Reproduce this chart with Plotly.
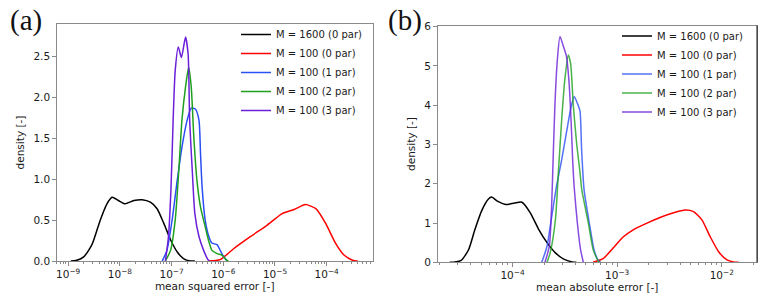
import plotly.graph_objects as go

# ---------------- data (x as log10 exponent, y as density) ----------------
SERIES_NAMES = ["M = 1600 (0 par)", "M = 100 (0 par)", "M = 100 (1 par)",
                "M = 100 (2 par)", "M = 100 (3 par)"]

# Panel (a): mean squared error
A_BLACK_LOGX = [-8.95, -8.85, -8.70, -8.54, -8.38, -8.25, -8.15, -8.03, -7.90, -7.73,
                -7.57, -7.41, -7.28, -7.15, -7.02, -6.89, -6.77, -6.64, -6.55]
A_BLACK_Y = [0.0, 0.005, 0.05, 0.20, 0.50, 0.70, 0.78, 0.74, 0.70, 0.74,
             0.75, 0.72, 0.64, 0.46, 0.26, 0.11, 0.03, 0.0, 0.0]

A_RED_LOGX = [-6.30, -6.15, -6.05, -5.80, -5.47, -5.15, -4.86, -4.63, -4.41, -4.21,
              -4.02, -3.83, -3.66, -3.50, -3.40]
A_RED_Y = [0.0, 0.005, 0.02, 0.15, 0.30, 0.44, 0.58, 0.63, 0.69, 0.64,
           0.46, 0.22, 0.07, 0.01, 0.0]

A_BLUE_LOGX = [-7.18, -7.09, -6.99, -6.89, -6.80, -6.70, -6.62, -6.54, -6.47, -6.44,
               -6.41, -6.35, -6.28, -6.22, -6.12, -6.06, -5.99, -5.92]
A_BLUE_Y = [0.0, 0.13, 0.50, 0.99, 1.39, 1.72, 1.87, 1.86, 1.72, 1.31,
            0.91, 0.50, 0.30, 0.22, 0.20, 0.13, 0.05, 0.0]

A_GREEN_LOGX = [-7.12, -7.02, -6.93, -6.86, -6.80, -6.73, -6.67, -6.62, -6.57, -6.51,
                -6.44, -6.35, -6.28, -6.22, -6.12, -6.02, -5.94, -5.90]
A_GREEN_Y = [0.0, 0.13, 0.50, 1.11, 1.72, 2.13, 2.37, 2.13, 1.52, 0.99,
             0.66, 0.42, 0.24, 0.13, 0.09, 0.07, 0.01, 0.0]

A_PURPLE_LOGX = [-7.12, -7.06, -7.01, -6.97, -6.93, -6.87, -6.81, -6.73, -6.68, -6.65,
                 -6.60, -6.55, -6.47, -6.38, -6.30, -6.27]
A_PURPLE_Y = [0.0, 0.30, 0.91, 1.72, 2.33, 2.62, 2.49, 2.74, 2.53, 1.72,
              1.11, 0.58, 0.30, 0.13, 0.02, 0.0]

# Panel (b): mean absolute error
B_BLACK_LOGX = [-4.60, -4.55, -4.49, -4.42, -4.36, -4.29, -4.23, -4.20, -4.14, -4.06,
                -3.98, -3.91, -3.83, -3.75, -3.67, -3.59, -3.51, -3.43, -3.39]
B_BLACK_Y = [0.0, 0.005, 0.05, 0.32, 0.83, 1.34, 1.61, 1.66, 1.55, 1.47,
             1.51, 1.53, 1.26, 0.84, 0.50, 0.24, 0.08, 0.01, 0.0]

B_RED_LOGX = [-3.23, -3.13, -3.04, -2.94, -2.85, -2.72, -2.59, -2.46, -2.35, -2.27,
              -2.19, -2.11, -2.03, -1.95, -1.89, -1.84]
B_RED_Y = [0.0, 0.10, 0.36, 0.65, 0.82, 0.99, 1.14, 1.26, 1.33, 1.29,
           1.08, 0.65, 0.27, 0.06, 0.01, 0.0]

B_BLUE_LOGX = [-3.72, -3.67, -3.63, -3.58, -3.53, -3.48, -3.44, -3.41, -3.38, -3.355,
               -3.34, -3.316, -3.266, -3.22, -3.18, -3.157]
B_BLUE_Y = [0.0, 0.41, 1.08, 1.93, 2.61, 3.37, 3.96, 4.22, 4.05, 3.85,
            2.90, 1.85, 1.00, 0.31, 0.05, 0.0]

B_GREEN_LOGX = [-3.67, -3.64, -3.59, -3.56, -3.53, -3.50, -3.467, -3.444, -3.419, -3.386,
                -3.355, -3.338, -3.275, -3.228, -3.18, -3.163]
B_GREEN_Y = [0.0, 0.24, 1.08, 2.36, 3.63, 4.65, 5.28, 5.05, 4.00, 3.00,
             2.30, 1.85, 1.00, 0.31, 0.03, 0.0]

B_PURPLE_LOGX = [-3.69, -3.648, -3.625, -3.61, -3.594, -3.572, -3.546, -3.514, -3.485, -3.46,
                 -3.44, -3.425, -3.41, -3.38, -3.35, -3.323]
B_PURPLE_Y = [0.0, 0.41, 1.51, 2.78, 4.04, 5.14, 5.75, 5.50, 5.25, 4.60,
              3.60, 2.60, 1.90, 1.00, 0.33, 0.0]

COLORS = ["#000000", "#ff0000", "#2a4ff5", "#1ea01e", "#6a1fd8"]

A_YTICKS = [0.0, 0.5, 1.0, 1.5, 2.0, 2.5]
B_YTICKS = [0, 1, 2, 3, 4, 5, 6]
A_XEXP = [-9, -8, -7, -6, -5, -4]
B_XEXP = [-4, -3, -2]

# ---------------- figure ----------------
W, H = 763, 303
fig = go.Figure()

panel_a = [(A_BLACK_LOGX, A_BLACK_Y), (A_RED_LOGX, A_RED_Y), (A_BLUE_LOGX, A_BLUE_Y),
           (A_GREEN_LOGX, A_GREEN_Y), (A_PURPLE_LOGX, A_PURPLE_Y)]
panel_b = [(B_BLACK_LOGX, B_BLACK_Y), (B_RED_LOGX, B_RED_Y), (B_BLUE_LOGX, B_BLUE_Y),
           (B_GREEN_LOGX, B_GREEN_Y), (B_PURPLE_LOGX, B_PURPLE_Y)]

for i, (lx, y) in enumerate(panel_a):
    fig.add_trace(go.Scatter(
        x=[10 ** v for v in lx], y=y, mode="lines", name=SERIES_NAMES[i],
        line=dict(color=COLORS[i], width=1.5, shape="spline", smoothing=0.6),
        xaxis="x", yaxis="y", legend="legend"))

for i, (lx, y) in enumerate(panel_b):
    fig.add_trace(go.Scatter(
        x=[10 ** v for v in lx], y=y, mode="lines", name=SERIES_NAMES[i],
        opacity=1.0 if i < 2 else 0.8,
        line=dict(color=COLORS[i], width=1.5, shape="spline", smoothing=0.6),
        xaxis="x2", yaxis="y2", legend="legend2"))

def px_x(p):
    return p / W

def px_y(p):
    return 1 - p / H

SPINE = "#8a8a8a"
TICKFONT = dict(family="DejaVu Sans", size=10.5, color="#1a1a1a")
TITLEFONT = dict(family="DejaVu Sans", size=10.5, color="#1a1a1a")

def minor_vals(exps):
    lo, hi = exps[0] - 1, exps[-1] + 1
    return [k * 10.0 ** e for e in range(lo, hi + 1) for k in range(2, 10)]

common_x = dict(type="log", showgrid=False, zeroline=False, showline=True, mirror=True,
                linecolor=SPINE, linewidth=1, ticks="outside", ticklen=3.5, tickwidth=1,
                tickcolor=SPINE, tickfont=TICKFONT, title_font=TITLEFONT, automargin=False)
common_y = dict(showgrid=False, zeroline=False, showline=True, mirror=True,
                linecolor=SPINE, linewidth=1, ticks="outside", ticklen=3.5, tickwidth=1,
                tickcolor=SPINE, tickfont=TICKFONT, title_font=TITLEFONT, automargin=False)

fig.update_layout(
    width=W, height=H, margin=dict(l=0, r=0, t=0, b=0, autoexpand=False),
    paper_bgcolor="white", plot_bgcolor="white",
    font=dict(family="DejaVu Sans", color="#1a1a1a"),
    xaxis=dict(common_x, domain=[px_x(56.7), px_x(372.7)], anchor="y",
               range=[-9.222, -3.110],
               tickvals=[10.0 ** e for e in A_XEXP],
               ticktext=["10<sup>\u2212%d</sup>" % (-e) for e in A_XEXP],
               minor=dict(tickmode="array", tickvals=minor_vals(A_XEXP), ticks="outside",
                          ticklen=2, tickcolor=SPINE, showgrid=False),
               title=dict(text="mean squared error [-]", standoff=3)),
    yaxis=dict(common_y, domain=[px_y(261), px_y(24)], anchor="x",
               range=[0, 2.9], tickvals=A_YTICKS,
               ticktext=["%.1f" % v for v in A_YTICKS],
               title=dict(text="density [-]", standoff=6)),
    xaxis2=dict(common_x, domain=[px_x(437.5), px_x(757)], anchor="y2",
                range=[-4.717, -1.663],
                tickvals=[10.0 ** e for e in B_XEXP],
                ticktext=["10<sup>\u2212%d</sup>" % (-e) for e in B_XEXP],
                minor=dict(tickmode="array", tickvals=minor_vals(B_XEXP), ticks="outside",
                           ticklen=2, tickcolor=SPINE, showgrid=False),
                title=dict(text="mean absolute error [-]", standoff=3)),
    yaxis2=dict(common_y, domain=[px_y(262.3), px_y(25.7)], anchor="x2",
                range=[0, 6.025], tickvals=B_YTICKS,
                ticktext=[str(v) for v in B_YTICKS],
                title=dict(text="density [-]", standoff=6)),
    legend=dict(x=px_x(236), y=px_y(20), xanchor="left", yanchor="top",
                bgcolor="rgba(0,0,0,0)", borderwidth=0,
                font=dict(family="DejaVu Sans", size=10, color="#1a1a1a")),
    legend2=dict(x=px_x(617), y=px_y(21.5), xanchor="left", yanchor="top",
                 bgcolor="rgba(0,0,0,0)", borderwidth=0,
                 font=dict(family="DejaVu Sans", size=10, color="#1a1a1a")),
    showlegend=True,
    annotations=[
        dict(text="(a)", x=px_x(25.5), y=px_y(20), xref="paper", yref="paper",
             xanchor="center", yanchor="middle", showarrow=False,
             font=dict(family="Liberation Serif", size=29, color="#111")),
        dict(text="(b)", x=px_x(405), y=px_y(20), xref="paper", yref="paper",
             xanchor="center", yanchor="middle", showarrow=False,
             font=dict(family="Liberation Serif", size=29, color="#111")),
    ],
    shapes=[
        dict(type="line", xref="paper", yref="paper",
             x0=px_x(757), x1=px_x(757), y0=px_y(262.3), y1=px_y(25.7),
             line=dict(color="#111", width=1)),
    ],
)

fig.write_html("out.html", config={"displayModeBar": False},
               post_script="document.body.style.margin='0';document.body.style.padding='0';")
